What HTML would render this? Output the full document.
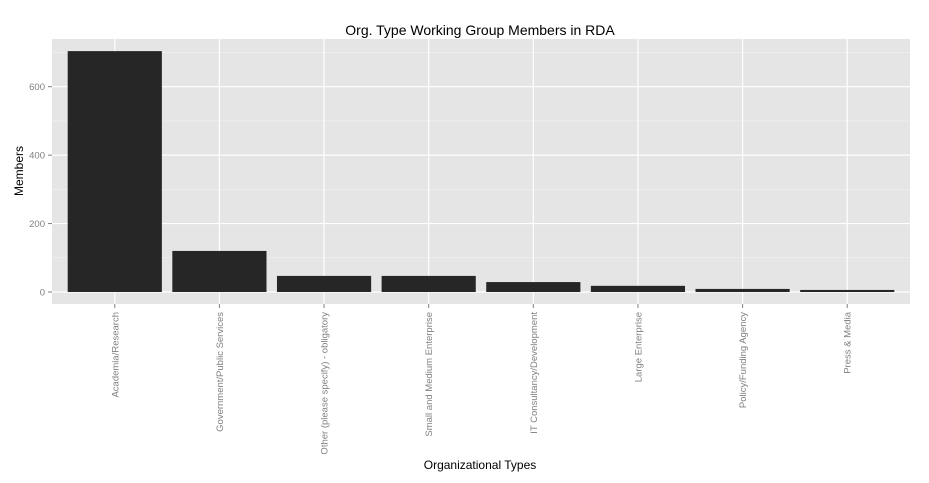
<!DOCTYPE html>
<html><head><meta charset="utf-8"><style>
body{margin:0;background:#fff;}
svg{display:block;font-family:"Liberation Sans",sans-serif;}
</style></head><body>
<svg id="chart" width="929" height="483">
<rect x="0" y="0" width="929" height="483" fill="#fff"/>
<rect x="52" y="39" width="858" height="265" fill="#e5e5e5"/>
<g id="grid"></g>
<g id="bars"></g>
<g id="axes"></g>
<text x="480" y="35" text-anchor="middle" font-size="14" fill="#000">Org. Type Working Group Members in RDA</text>
<text x="480" y="469" text-anchor="middle" font-size="12" fill="#000">Organizational Types</text>
<text transform="translate(23,171) rotate(-90)" text-anchor="middle" font-size="12" fill="#000">Members</text>
</svg>
<script>
const categories=["Academia/Research","Government/Public Services","Other (please specify) - obligatory","Small and Medium Enterprise","IT Consultancy/Development","Large Enterprise","Policy/Funding Agency","Press & Media"];
const values=[704,120,47,47,29,18,9,6];
const yTicks=[0,200,400,600];
const yMinor=[100,300,500,700];
const NS="http://www.w3.org/2000/svg";
const L=52,R=910,T=39,B=304;
const y0=292, pxPer=(292-86.7)/600;
function y(v){return y0-v*pxPer;}
const band=(R-L)/(categories.length+0.2);
function xc(i){return L+band*(0.6+i);}
function mk(tag,attrs,parent){const e=document.createElementNS(NS,tag);for(const k in attrs)e.setAttribute(k,attrs[k]);document.getElementById(parent).appendChild(e);return e;}
yMinor.forEach(v=>{const e=mk('line',{x1:L,x2:R,y1:y(v),y2:y(v),stroke:'#f2f2f2','stroke-width':0.6},'grid');

});
yTicks.forEach(v=>{const e=mk('line',{x1:L,x2:R,y1:y(v),y2:y(v),stroke:'#fff','stroke-width':1.2},'grid');


const t=mk('line',{x1:L-4,x2:L,y1:y(v),y2:y(v),stroke:'#7f7f7f','stroke-width':1},'axes');


const l=mk('text',{x:L-7,y:y(v)+3.5,'text-anchor':'end','font-size':9.5,fill:'#7f7f7f'},'axes');
l.textContent=v;

});
categories.forEach((c,i)=>{const cx=xc(i);
const g=mk('line',{x1:cx,x2:cx,y1:T,y2:B,stroke:'#fff','stroke-width':1.2},'grid');


const w=band*0.9;
const b=mk('rect',{x:cx-w/2,y:y(values[i]),width:w,height:y(0)-y(values[i]),fill:'#262626'},'bars');


const t=mk('line',{x1:cx,x2:cx,y1:B,y2:B+4,stroke:'#7f7f7f','stroke-width':1},'axes');


const l=mk('text',{transform:`translate(${cx+3.5},${B+8}) rotate(-90)`,'text-anchor':'end','font-size':9.5,fill:'#7f7f7f'},'axes');
l.textContent=c;

});
</script>
</body></html>
